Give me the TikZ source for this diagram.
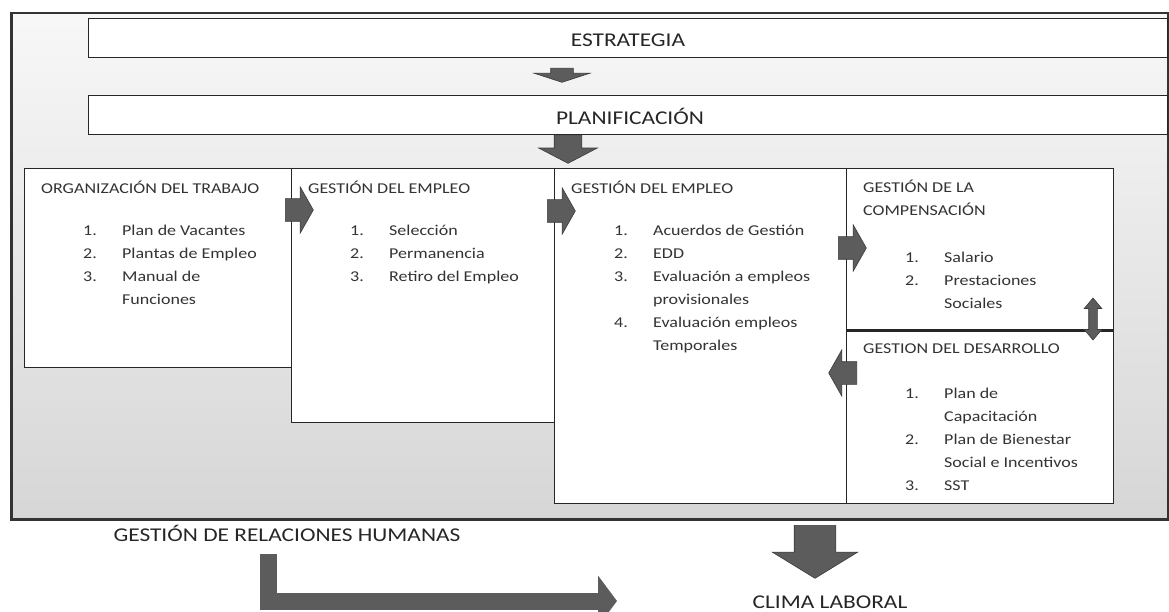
\documentclass[tikz,border=0pt]{standalone}
\usepackage{fontspec}
\setmainfont{Carlito}[FakeStretch=1.2]
\usepackage{tikz}
\usetikzlibrary{shapes,arrows,positioning,calc,arrows.meta}

\definecolor{arrowfill}{HTML}{5C5C5C}
\definecolor{arrowline}{HTML}{3A3A3A}
\newcommand{\itemtab}[1]{\begin{tabular}[t]{@{}p{39pt}@{}l@{}}#1\end{tabular}}
\newcommand{\titletab}[1]{\begin{tabular}[t]{@{}l@{}}#1\end{tabular}}

\begin{document}
\begin{tikzpicture}[x=1pt,y=-1pt,
    panel/.style={draw=black!85,line width=1.2pt,fill=white,rectangle,inner sep=0pt,anchor=north west},
    bigtext/.style={font=\fontsize{19.5}{24}\selectfont,text=black!85,inner sep=0pt,anchor=base},
    boxtext/.style={font=\fontsize{15}{23}\selectfont,text=black!80,inner sep=0pt,anchor=base west},
    shaft/.style={text height=#1/2,text depth=#1/2,text width=0pt},
    blockarrow/.style={single arrow,draw=arrowline,fill=arrowfill,line width=0.6pt,inner sep=0pt,
        anchor=tail,single arrow head indent=0pt},
    sidearrow/.style={blockarrow,shaft=22pt,minimum height=28pt,minimum width=46pt,
        single arrow head extend=12pt,single arrow tip angle=121}]
    \useasboundingbox (0,0) rectangle (1169,612);

    % frame and top bands
    \node[draw=black!80,line width=2.5pt,top color=gray!6,bottom color=gray!32,
        minimum width=1157pt,minimum height=506pt,inner sep=0pt,anchor=north west] (frame) at (10,12) {};
    \node[panel,minimum width=1079pt,minimum height=39pt] (strat) at (88,18) {};
    \node[bigtext] (strattext) at (628,47) {ESTRATEGIA};
    \node[panel,minimum width=1079pt,minimum height=39pt] (plan) at (88,95) {};
    \node[bigtext] (plantext) at (630,124.5) {PLANIFICACIÓN};
    \node[blockarrow,shaft=22pt,minimum height=14pt,minimum width=55pt,single arrow head extend=16.5pt,
        single arrow tip angle=144,rotate=-90] (a0) at (562,68) {};
    \node[blockarrow,shaft=27pt,minimum height=28pt,minimum width=58pt,single arrow head extend=15.5pt,
        single arrow tip angle=125,rotate=-90] (a1) at (568,135) {};

    % process boxes
    \node[panel,minimum width=267pt,minimum height=199pt] (org) at (24,168) {};
    \node[panel,minimum width=263pt,minimum height=254pt] (emp1) at (291,168) {};
    \node[panel,minimum width=292pt,minimum height=335pt] (emp2) at (554,168) {};
    \node[panel,minimum width=267pt,minimum height=161pt] (comp) at (846,168) {};
    \node[panel,minimum width=267pt,minimum height=174pt] (desa) at (846,329) {};
    \draw[line width=3pt,draw=black!85] (comp.south west) -- (comp.south east);

    \node[boxtext] (orgtitle) at (41,194) {ORGANIZACIÓN DEL TRABAJO};
    \node[boxtext] (orglist) at (83,236) {\itemtab{1.&Plan de Vacantes\\2.&Plantas de Empleo\\3.&Manual de\\&Funciones}};
    \node[boxtext] (emp1title) at (308,194) {GESTIÓN DEL EMPLEO};
    \node[boxtext] (emp1list) at (350,236) {\itemtab{1.&Selección\\2.&Permanencia\\3.&Retiro del Empleo}};
    \node[boxtext] (emp2title) at (571,194) {GESTIÓN DEL EMPLEO};
    \node[boxtext] (emp2list) at (614,236) {\itemtab{1.&Acuerdos de Gestión\\2.&EDD\\3.&Evaluación a empleos\\&provisionales\\4.&Evaluación empleos\\&Temporales}};
    \node[boxtext] (comptitle) at (863,193) {\titletab{GESTIÓN DE LA\\COMPENSACIÓN}};
    \node[boxtext] (complist) at (905,262) {\itemtab{1.&Salario\\2.&Prestaciones\\&Sociales}};
    \node[boxtext] (desatitle) at (863,353) {GESTION DEL DESARROLLO};
    \node[boxtext] (desalist) at (905,398) {\itemtab{1.&Plan de\\&Capacitación\\2.&Plan de Bienestar\\&Social e Incentivos\\3.&SST}};

    % arrows between boxes
    \node[sidearrow] (a12) at (285,210) {};
    \node[sidearrow] (a23) at (547,211) {};
    \node[sidearrow] (a34) at (838,248) {};
    \node[sidearrow,rotate=180] (a53) at (857,373) {};
    \node[double arrow,draw=arrowline,fill=arrowfill,line width=0.6pt,inner sep=0pt,shaft=8pt,
        minimum height=42pt,minimum width=17pt,double arrow head extend=4.5pt,
        double arrow tip angle=80,rotate=90] (updown) at (1093,319) {};

    % below the frame
    \node[bigtext] (rrhh) at (287,541.5) {GESTIÓN DE RELACIONES HUMANAS};
    \node[blockarrow,shaft=41pt,minimum height=53pt,minimum width=85pt,single arrow head extend=22pt,
        single arrow tip angle=117,rotate=-90] (a2) at (815,525) {};
    \node[bigtext] (clima) at (830,608.5) {CLIMA LABORAL};
    \coordinate (lstart) at (268.5,554);
    \coordinate (lend) at (617,601);
    \draw[line width=17pt,draw=arrowfill,-{Triangle[length=19pt,width=50pt]}] (lstart) |- (lend);
\end{tikzpicture}
\end{document}
